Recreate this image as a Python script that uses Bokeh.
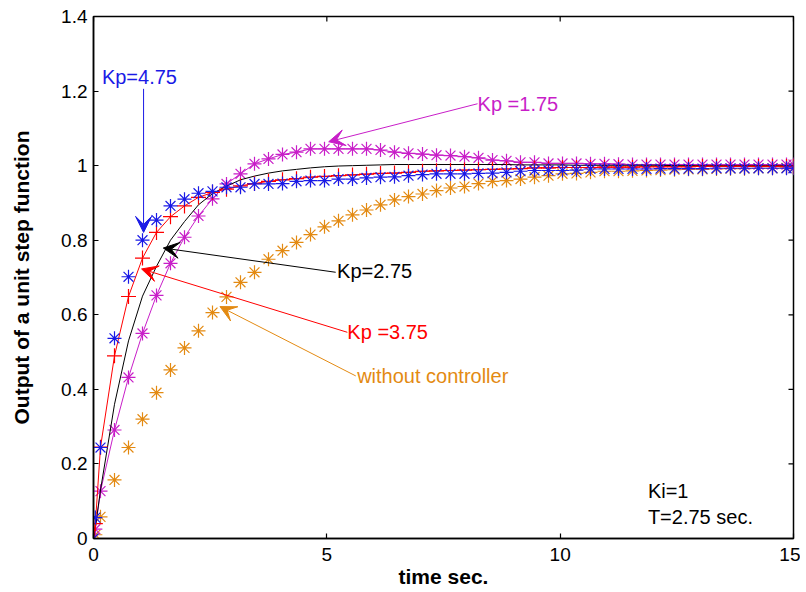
import math
from bokeh.plotting import figure
from bokeh.models import Range1d, FixedTicker, Arrow, VeeHead, Label
from bokeh.embed import file_html
from bokeh.resources import INLINE

# ---------------- data ----------------
T = [0, 0.04, 0.15, 0.45, 0.75, 1.05, 1.35, 1.65, 1.95, 2.25, 2.55, 2.85, 3.15, 3.45,
     3.75, 4.05, 4.35, 4.65, 4.95, 5.25, 5.55, 5.85, 6.15, 6.45, 6.75, 7.05, 7.35, 7.65,
     7.95, 8.25, 8.55, 8.85, 9.15, 9.45, 9.75, 10.05, 10.35, 10.65, 10.95, 11.25, 11.55,
     11.85, 12.15, 12.45, 12.75, 13.05, 13.35, 13.65, 13.95, 14.25, 14.55, 14.85, 15.0]

without_controller = [0, 0.01, 0.058, 0.157, 0.244, 0.320, 0.391, 0.452, 0.511, 0.557, 0.606,
                      0.648, 0.687, 0.714, 0.749, 0.772, 0.794, 0.815, 0.836, 0.852, 0.868,
                      0.881, 0.895, 0.908, 0.917, 0.924, 0.933, 0.940, 0.944, 0.952, 0.958,
                      0.960, 0.964, 0.969, 0.973, 0.978, 0.979, 0.982, 0.985, 0.985, 0.986,
                      0.987, 0.988, 0.989, 0.990, 0.990, 0.991, 0.992, 0.992, 0.993, 0.993,
                      0.994, 0.994]

kp_175 = [0, 0.025, 0.127, 0.291, 0.432, 0.550, 0.652, 0.738, 0.808, 0.865, 0.911, 0.951,
          0.978, 1.005, 1.018, 1.030, 1.036, 1.045, 1.045, 1.045, 1.045, 1.045, 1.042, 1.036,
          1.033, 1.031, 1.028, 1.027, 1.024, 1.021, 1.015, 1.013, 1.009, 1.009, 1.006, 1.006,
          1.006, 1.005, 1.005, 1.004, 1.003, 1.003, 1.003, 1.003, 1.003, 1.003, 1.003, 1.003,
          1.003, 1.003, 1.003, 1.003, 1.003]

kp_275 = [0, 0.030, 0.130, 0.360, 0.530, 0.650, 0.730, 0.800, 0.850, 0.895, 0.925, 0.945,
          0.962, 0.972, 0.980, 0.986, 0.990, 0.994, 0.997, 0.999, 1.000, 1.001, 1.002, 1.003,
          1.003, 1.003, 1.003, 1.003, 1.003, 1.003, 1.003, 1.003, 1.002, 1.002, 1.002, 1.002,
          1.001, 1.001, 1.001, 1.001, 1.001, 1.001, 1.001, 1.000, 1.000, 1.000, 1.000, 1.000,
          1.000, 1.000, 1.000, 1.000, 1.000]

kp_375 = [0, 0.040, 0.245, 0.490, 0.649, 0.752, 0.821, 0.863, 0.892, 0.915, 0.928, 0.937,
          0.946, 0.952, 0.958, 0.962, 0.965, 0.969, 0.971, 0.973, 0.975, 0.977, 0.979, 0.980,
          0.982, 0.985, 0.986, 0.987, 0.988, 0.989, 0.990, 0.991, 0.992, 0.994, 0.994, 0.995,
          0.995, 0.995, 0.996, 0.996, 0.996, 0.997, 0.997, 0.997, 0.997, 0.998, 0.998, 0.998,
          0.998, 0.998, 0.998, 0.998, 0.998]

kp_475 = [0, 0.056, 0.244, 0.537, 0.702, 0.800, 0.854, 0.892, 0.910, 0.926, 0.931, 0.942,
          0.942, 0.951, 0.951, 0.952, 0.958, 0.960, 0.960, 0.964, 0.964, 0.967, 0.969, 0.970,
          0.973, 0.976, 0.978, 0.978, 0.978, 0.979, 0.980, 0.982, 0.985, 0.987, 0.987, 0.987,
          0.988, 0.991, 0.991, 0.991, 0.991, 0.991, 0.992, 0.992, 0.992, 0.992, 0.993, 0.993,
          0.993, 0.993, 0.993, 0.993, 0.993]

X_RANGE = (0, 15)
Y_RANGE = (0, 1.4)
X_TICKS = [0, 5, 10, 15]
Y_TICKS = [0, 0.2, 0.4, 0.6, 0.8, 1.0, 1.2, 1.4]
Y_TICK_LABELS = ["0", "0.2", "0.4", "0.6", "0.8", "1", "1.2", "1.4"]

# annotations: text, colour, text anchor (x, y), arrow start, arrow tip
ANNOT_TEXT = ["Kp=4.75", "Kp =1.75", "Kp=2.75", "Kp =3.75", "without controller"]
ANNOT_COLOR = ["#1a1ae6", "#c81ec8", "#000000", "#ff0000", "#e38a12"]
ANNOT_TX = [0.18, 8.23, 5.22, 5.44, 5.65]
ANNOT_TY = [1.238, 1.166, 0.717, 0.553, 0.435]
ARROW_X0 = [1.073, 8.23, 5.19, 5.44, 5.62]
ARROW_Y0 = [1.206, 1.166, 0.714, 0.553, 0.436]
ARROW_X1 = [1.073, 5.04, 1.496, 1.03, 2.71]
ARROW_Y1 = [0.821, 1.064, 0.779, 0.723, 0.622]

NOTE_LINES = ["Ki=1", "T=2.75 sec."]
NOTE_X = 11.88
NOTE_Y = [0.1275, 0.059]

# ---------------- figure ----------------
FONT = "Liberation Sans"
ORANGE, MAGENTA, BLUE, RED = "#e38a12", "#c81ec8", "#1a1ae6", "#ff0000"

p = figure(width=800, height=590, x_range=Range1d(*X_RANGE), y_range=Range1d(*Y_RANGE),
           output_backend="svg", toolbar_location=None,
           min_border_left=93, min_border_right=7, min_border_top=16, min_border_bottom=52)
p.xgrid.visible = False
p.ygrid.visible = False
p.outline_line_color = "black"
p.outline_line_width = 1.5
p.background_fill_color = "white"
p.border_fill_color = "white"

p.xaxis.ticker = FixedTicker(ticks=X_TICKS)
p.yaxis.ticker = FixedTicker(ticks=Y_TICKS)
p.yaxis.major_label_overrides = {t: l for t, l in zip(Y_TICKS, Y_TICK_LABELS)}
for ax in (p.xaxis, p.yaxis):
    ax.major_tick_in = 5
    ax.major_tick_out = 0
    ax.minor_tick_in = 0
    ax.minor_tick_out = 0
    ax.axis_line_width = 1.5
    ax.major_tick_line_width = 1.2
    ax.major_label_text_font = FONT
    ax.major_label_text_font_size = "19px"
    ax.major_label_text_color = "black"
    ax.axis_label_text_font = FONT
    ax.axis_label_text_font_size = "21px"
    ax.axis_label_text_font_style = "bold"
    ax.axis_label_text_color = "black"
p.xaxis.major_label_standoff = 9
p.yaxis.major_label_standoff = 6
p.xaxis.axis_label = "time sec."
p.yaxis.axis_label = "Output of a unit step function"
p.xaxis.axis_label_standoff = 1
p.yaxis.axis_label_standoff = 25

# mirrored inward ticks on the top and right edges of the box
p.scatter(X_TICKS, [Y_RANGE[1]] * len(X_TICKS), marker="dash", angle=math.pi / 2,
          size=10, line_color="black", line_width=1.2)
p.scatter([X_RANGE[1]] * len(Y_TICKS), Y_TICKS, marker="dash",
          size=10, line_color="black", line_width=1.2)

# series
p.scatter(T, without_controller, marker="asterisk", size=14, line_color=ORANGE, line_width=1.2)
p.line(T, kp_175, line_color=MAGENTA, line_width=1)
p.scatter(T, kp_175, marker="asterisk", size=14, line_color=MAGENTA, line_width=1.2)
p.line(T, kp_275, line_color="black", line_width=1)
p.line(T, kp_375, line_color=RED, line_width=1)
p.scatter(T, kp_375, marker="cross", size=15, line_color=RED, line_width=1.2)
p.scatter(T, kp_475, marker="asterisk", size=14, line_color=BLUE, line_width=1.2)

# annotations
for txt, c, tx, ty, x0, y0, x1, y1 in zip(ANNOT_TEXT, ANNOT_COLOR, ANNOT_TX, ANNOT_TY,
                                          ARROW_X0, ARROW_Y0, ARROW_X1, ARROW_Y1):
    p.add_layout(Arrow(end=VeeHead(size=16, fill_color=c, line_color=c, line_width=1),
                       x_start=x0, y_start=y0, x_end=x1, y_end=y1,
                       line_color=c, line_width=1))
    p.add_layout(Label(x=tx, y=ty, text=txt, text_font=FONT, text_font_size="20px",
                       text_color=c, text_baseline="middle", text_align="left"))

for line, ny in zip(NOTE_LINES, NOTE_Y):
    p.add_layout(Label(x=NOTE_X, y=ny, text=line, text_font=FONT, text_font_size="20px",
                       text_color="black", text_baseline="middle", text_align="left"))

open("out.html", "w").write(file_html(p, INLINE))
